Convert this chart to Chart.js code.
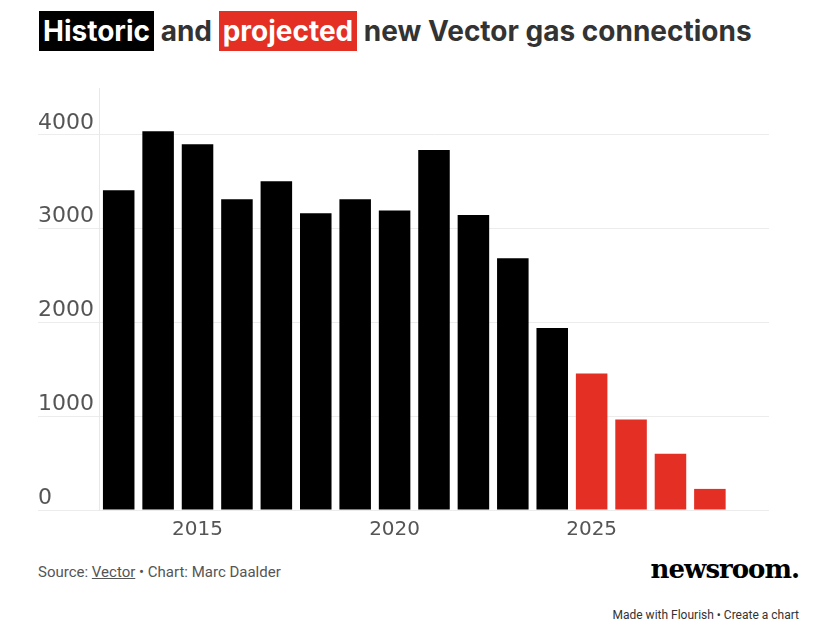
<!DOCTYPE html>
<html>
<head>
<meta charset="utf-8">
<script src="https://cdn.jsdelivr.net/npm/chart.js@4.4.1/dist/chart.umd.min.js"></script>
<style>
  html, body { margin: 0; padding: 0; background: #fff; width: 819px; height: 637px; overflow: hidden; }
  #title { position: absolute; left: 39px; top: 11px; font-family: Inter, "Open Sans", sans-serif; font-weight: bold; font-size: 28px; line-height: 40px; color: #333; white-space: nowrap; }
  #title .hl { color: #fff; display: inline-block; padding: 0 4px; height: 40px; }
  #title .h { background: #000; }
  #title .p { background: #e32f24; }
  #chartbox { position: absolute; left: 0; top: 60px; width: 800px; height: 490px; }
  #source { position: absolute; left: 38px; top: 563px; font-family: Roboto, sans-serif; font-size: 15px; color: #555; }
  #source u { text-decoration: underline; }
  #logo { position: absolute; right: 20px; top: 554px; font-family: "DejaVu Serif", "Liberation Serif", serif; font-weight: bold; font-size: 26px; color: #000; letter-spacing: -1px; }
  #flourish { position: absolute; right: 20px; top: 608px; font-family: Roboto, sans-serif; font-size: 12px; color: #333; }
</style>
</head>
<body>
<div id="title"><span class="hl h">Historic</span> and <span class="hl p">projected</span> new Vector gas connections</div>
<div id="chartbox"><canvas id="c"></canvas></div>
<div id="source">Source: <u>Vector</u> • Chart: Marc Daalder</div>
<div id="logo">newsroom.</div>
<div id="flourish">Made with Flourish • Create a chart</div>
<script>
const historicYears = [2013, 2014, 2015, 2016, 2017, 2018, 2019, 2020, 2021, 2022, 2023, 2024];
const historicValues = [3410, 4040, 3900, 3315, 3505, 3165, 3315, 3195, 3840, 3145, 2685, 1940];
const projectedYears = [2025, 2026, 2027, 2028];
const projectedValues = [1455, 965, 600, 225];
const xTickYears = [2015, 2020, 2025];
const yTickValues = [0, 1000, 2000, 3000, 4000];

const toPoints = (xs, ys) => xs.map((x, i) => ({ x: x, y: ys[i] }));
const gridColor = '#ececec';

new Chart(document.getElementById('c'), {
  type: 'bar',
  data: {
    datasets: [
      { label: 'Historic', data: toPoints(historicYears, historicValues), backgroundColor: '#000000', grouped: false, barPercentage: 1, categoryPercentage: 0.8 },
      { label: 'Projected', data: toPoints(projectedYears, projectedValues), backgroundColor: '#e32f24', grouped: false, barPercentage: 1, categoryPercentage: 0.8 }
    ]
  },
  options: {
    responsive: true,
    maintainAspectRatio: false,
    animation: false,
    layout: { padding: { left: 38, top: 28, right: 31, bottom: 0 } },
    plugins: { legend: { display: false }, tooltip: { enabled: false } },
    scales: {
      x: {
        type: 'linear',
        offset: false,
        bounds: 'data',
        min: 2012.5,
        max: 2029.5,
        grid: { display: false },
        border: { display: false },
        afterBuildTicks: (axis) => { axis.ticks = xTickYears.map(v => ({ value: v })); },
        afterFit: (axis) => { axis.height = 40; },
        ticks: {
          padding: 0,
          color: '#555',
          font: { family: '"DejaVu Sans", sans-serif', size: 20 },
          callback: (v) => String(v)
        }
      },
      y: {
        min: 0,
        max: 4500,
        afterBuildTicks: (axis) => { axis.ticks = yTickValues.map(v => ({ value: v })); },
        afterFit: (axis) => { axis.width = 61; },
        grid: { color: gridColor, tickColor: gridColor, tickLength: 61, lineWidth: 1 },
        border: { display: true, color: '#e8e8e8' },
        ticks: {
          crossAlign: 'far',
          labelOffset: -12,
          color: '#555',
          font: { family: '"DejaVu Sans", sans-serif', size: 22 },
          callback: (v) => String(v)
        }
      }
    }
  }
});
</script>
</body>
</html>
